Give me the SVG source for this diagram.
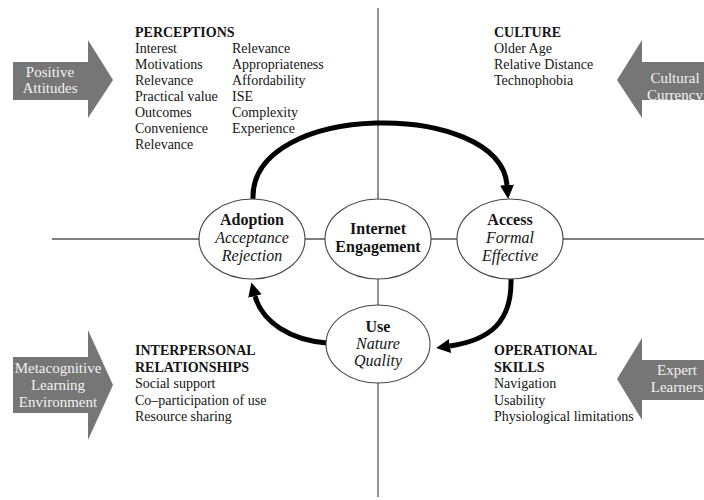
<svg xmlns="http://www.w3.org/2000/svg" width="704" height="500" viewBox="0 0 704 500">
  <style>
    text { font-family: "Liberation Serif", "Times New Roman", serif; fill: #141414; }
    .list { font-size: 14px; }
    .head { font-size: 14px; font-weight: bold; }
    .node-title { font-size: 16px; font-weight: bold; text-anchor: middle; }
    .node-sub { font-size: 16px; font-style: italic; text-anchor: middle; }
    .badge { fill: #767676; }
    .badge-text { font-size: 15px; fill: #f2f2f2; text-anchor: middle; }
    .axis { stroke: #555; stroke-width: 1.3; fill: none; }
    .node { fill: #fff; stroke: #444; stroke-width: 1.1; }
    .flow { stroke: #000; stroke-width: 5; fill: none; marker-end: url(#head); }
  </style>
  <defs>
    <marker id="head" markerUnits="userSpaceOnUse" viewBox="0 0 14 14" refX="0" refY="7" markerWidth="14" markerHeight="14" orient="auto">
      <path d="M0,0 L14,7 L0,14 Z" fill="#000"/>
    </marker>
  </defs>
  <rect width="704" height="500" fill="#fff"/>

  <!-- quadrant axes -->
  <g id="axes">
    <line class="axis" x1="378" y1="8" x2="378" y2="497"/>
    <line class="axis" x1="52" y1="239" x2="704" y2="239"/>
  </g>

  <!-- cycle connectors -->
  <g id="connectors">
    <path class="flow" d="M253,199 C250,100 500,100 507,185"/>
    <path class="flow" d="M511,279 C512,322 490,340 450,346"/>
    <path class="flow" d="M327,343 C290,340 262,322 255,296"/>
  </g>

  <!-- nodes -->
  <g id="adoption">
    <ellipse class="node" cx="252" cy="239" rx="53" ry="40"/>
    <text class="node-title" x="252" y="225">Adoption</text>
    <text class="node-sub" x="252" y="243">Acceptance</text>
    <text class="node-sub" x="252" y="261">Rejection</text>
  </g>
  <g id="engagement">
    <ellipse class="node" cx="378" cy="239" rx="53" ry="40"/>
    <text class="node-title" x="378" y="234">Internet</text>
    <text class="node-title" x="378" y="252">Engagement</text>
  </g>
  <g id="access">
    <ellipse class="node" cx="510" cy="239" rx="53" ry="40"/>
    <text class="node-title" x="510" y="225">Access</text>
    <text class="node-sub" x="510" y="243">Formal</text>
    <text class="node-sub" x="510" y="261">Effective</text>
  </g>
  <g id="use">
    <ellipse class="node" cx="378" cy="344" rx="52" ry="39"/>
    <text class="node-title" x="378" y="332">Use</text>
    <text class="node-sub" x="378" y="349">Nature</text>
    <text class="node-sub" x="378" y="366">Quality</text>
  </g>

  <!-- quadrant factor lists -->
  <g id="perceptions">
    <text class="head" x="135" y="37">PERCEPTIONS</text>
    <text class="list" x="135" y="53">Interest</text>
    <text class="list" x="135" y="69">Motivations</text>
    <text class="list" x="135" y="85">Relevance</text>
    <text class="list" x="135" y="101">Practical value</text>
    <text class="list" x="135" y="117">Outcomes</text>
    <text class="list" x="135" y="133">Convenience</text>
    <text class="list" x="135" y="149">Relevance</text>
    <text class="list" x="232" y="53">Relevance</text>
    <text class="list" x="232" y="69">Appropriateness</text>
    <text class="list" x="232" y="85">Affordability</text>
    <text class="list" x="232" y="101">ISE</text>
    <text class="list" x="232" y="117">Complexity</text>
    <text class="list" x="232" y="133">Experience</text>
  </g>
  <g id="culture">
    <text class="head" x="494" y="37">CULTURE</text>
    <text class="list" x="494" y="53">Older Age</text>
    <text class="list" x="494" y="69">Relative Distance</text>
    <text class="list" x="494" y="85">Technophobia</text>
  </g>
  <g id="interpersonal">
    <text class="head" x="135" y="355">INTERPERSONAL</text>
    <text class="head" x="135" y="372">RELATIONSHIPS</text>
    <text class="list" x="135" y="388">Social support</text>
    <text class="list" x="135" y="405">Co–participation of use</text>
    <text class="list" x="135" y="421">Resource sharing</text>
  </g>
  <g id="operational">
    <text class="head" x="494" y="355">OPERATIONAL</text>
    <text class="head" x="494" y="372">SKILLS</text>
    <text class="list" x="494" y="388">Navigation</text>
    <text class="list" x="494" y="405">Usability</text>
    <text class="list" x="494" y="421">Physiological limitations</text>
  </g>

  <!-- grey influence arrows -->
  <g id="positive-attitudes">
    <path class="badge" d="M13,62 H88 V40 L113,80 L88,118 V100 H13 Z"/>
    <text class="badge-text" x="50" y="77">Positive</text>
    <text class="badge-text" x="50" y="93">Attitudes</text>
  </g>
  <g id="cultural-currency">
    <path class="badge" d="M704,62 H642 V40 L617,80 L642,118 V100 H704 Z"/>
    <text class="badge-text" x="675" y="83">Cultural</text>
    <text class="badge-text" x="675" y="100">Currency</text>
  </g>
  <g id="metacognitive">
    <path class="badge" d="M13,357 H88 V330 L113,385 L88,440 V413 H13 Z"/>
    <text class="badge-text" x="58" y="373">Metacognitive</text>
    <text class="badge-text" x="58" y="390">Learning</text>
    <text class="badge-text" x="58" y="407">Environment</text>
  </g>
  <g id="expert-learners">
    <path class="badge" d="M704,360 H642 V338 L617,379 L642,420 V400 H704 Z"/>
    <text class="badge-text" x="677" y="375">Expert</text>
    <text class="badge-text" x="677" y="392">Learners</text>
  </g>
</svg>
